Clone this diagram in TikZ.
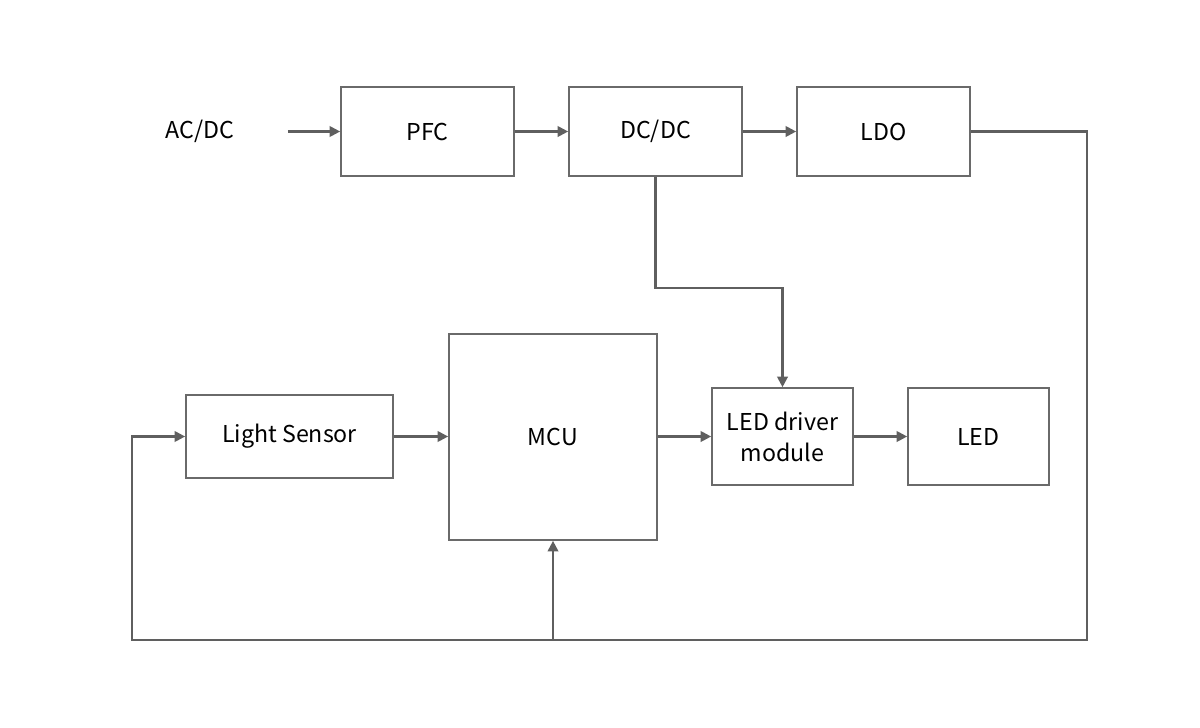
\documentclass[tikz,border=0pt]{standalone}
\usepackage{fontspec}
\setmainfont{Noto Sans CJK SC}
\usepackage{tikz}
\usetikzlibrary{arrows.meta}
\usetikzlibrary{shapes,positioning,calc}

\definecolor{linegray}{HTML}{5F5F5F}
\definecolor{boxgray}{HTML}{6A6A6A}

\tikzset{
	blk/.style={draw=boxgray, line width=0.45pt, inner sep=0pt, align=center,
		font=\fontsize{6.6pt}{8.8pt}\selectfont},
	conn/.style={draw=linegray, line width=0.6pt},
	arr/.style={conn, -{Triangle[length=3pt,width=3pt]}}
}

\begin{document}
\begin{tikzpicture}[x=0.01cm,y=-0.01cm]
				\useasboundingbox (0,0) rectangle (1200,727);
				% upper chain
				\node[blk, draw=none, minimum width=1.74cm] (acdc) at (200,131.5) {AC/DC};
				\node[blk, minimum width=1.73cm, minimum height=0.89cm] (pfc) at (427.5,131.5) {PFC};
				\node[blk, minimum width=1.73cm, minimum height=0.89cm] (dcdc) at (655.5,131.5) {DC/DC};
				\node[blk, minimum width=1.73cm, minimum height=0.89cm] (ldo) at (883.5,131.5) {LDO};
				% lower chain
				\node[blk, minimum width=2.07cm, minimum height=0.83cm] (sensor) at (289.5,436.5) {Light Sensor};
				\node[blk, minimum width=2.08cm, minimum height=2.06cm] (mcu) at (553,437) {MCU};
				\node[blk, minimum width=1.41cm, minimum height=0.97cm] (driver) at (782.5,436.5) {LED driver\\module};
				\node[blk, minimum width=1.41cm, minimum height=0.97cm] (led) at (978.5,436.5) {LED};
				\coordinate (bend) at (782.5,288);
				\coordinate (br) at (1087,640);
				\coordinate (bl) at (132,640);

				\draw[arr] (acdc) -- (pfc);
				\draw[arr] (pfc) -- (dcdc);
				\draw[arr] (dcdc) -- (ldo);
				\draw[arr] (dcdc.south) |- (bend) -- (driver.north);
				\draw[arr] (sensor) -- (sensor -| mcu.west);
				\draw[arr] (mcu.east |- driver) -- (driver);
				\draw[arr] (driver) -- (led);
				\draw[arr] (ldo.east) -| (br) -- (bl) |- (sensor.west);
				\draw[arr] (mcu.south |- br) -- (mcu.south);
			\end{tikzpicture}
\end{document}
